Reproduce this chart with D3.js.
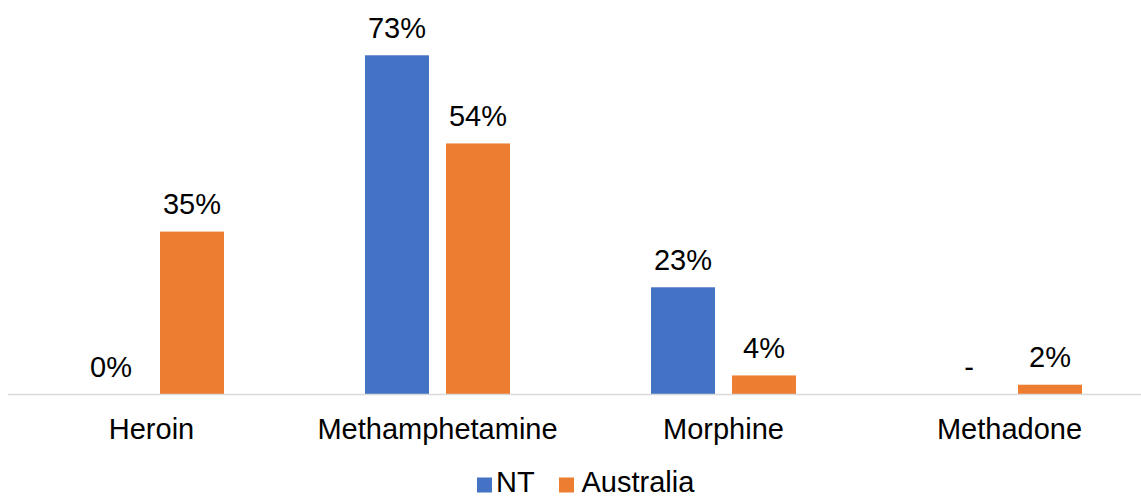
<!DOCTYPE html>
<html>
<head>
<meta charset="utf-8">
<script src="https://cdn.jsdelivr.net/npm/d3@7"></script>
<style>
  html, body { margin: 0; padding: 0; background: #fff; }
  svg { display: block; font-family: "Liberation Sans", Arial, sans-serif; }
</style>
</head>
<body>
<svg id="chart" width="1141" height="498"></svg>
<script>
// Drug categories and share of detections by region
const categories = ["Heroin", "Methamphetamine", "Morphine", "Methadone"];
const seriesNames = ["NT", "Australia"];
const ntValues = [0, 73, 23, null];          // null = no data, labelled "-"
const australiaValues = [35, 54, 4, 2];
const seriesColors = ["#4472C4", "#ED7D31"];

const series = [
  { name: seriesNames[0], values: ntValues, color: seriesColors[0] },
  { name: seriesNames[1], values: australiaValues, color: seriesColors[1] }
];

const W = 1141, H = 498;
const baseY = 394;
const FONT = 29;
const svg = d3.select("#chart");

const x0 = d3.scaleBand().domain(categories).range([8.5, 1152.5]).padding(0);
const x1 = d3.scaleBand().domain(seriesNames)
  .range([70.5, x0.bandwidth() - 70.5])
  .paddingInner(17 / 81).paddingOuter(0);
const y = d3.scaleLinear().domain([0, 80]).range([baseY, baseY - 80 * 4.64]);

// bars and value labels
const groups = svg.append("g").selectAll("g")
  .data(categories)
  .join("g")
  .attr("transform", d => `translate(${x0(d)},0)`);

series.forEach(s => {
  groups.each(function (cat, i) {
    const v = s.values[i];
    const g = d3.select(this);
    if (v !== null && v > 0) {
      g.append("rect")
        .attr("x", x1(s.name))
        .attr("y", y(v))
        .attr("width", x1.bandwidth())
        .attr("height", y(0) - y(v))
        .attr("fill", s.color);
    }
    g.append("text")
      .attr("x", x1(s.name) + x1.bandwidth() / 2)
      .attr("y", y(v === null ? 0 : v) - 17.5)
      .attr("text-anchor", "middle")
      .attr("font-size", FONT)
      .attr("fill", "#000")
      .text(v === null ? "-" : v + "%");
  });
});

// category axis
const xAxis = svg.append("g")
  .attr("transform", `translate(0,${baseY})`)
  .call(d3.axisBottom(x0).tickSize(0).tickPadding(0));
xAxis.select(".domain").remove();
xAxis.selectAll("text")
  .attr("dy", null)
  .attr("y", 45.3)
  .attr("font-family", "Liberation Sans, Arial, sans-serif")
  .attr("font-size", FONT)
  .attr("fill", "#000");

svg.append("line")
  .attr("x1", 8).attr("x2", W)
  .attr("y1", baseY + 0.5).attr("y2", baseY + 0.5)
  .attr("stroke", "#D9D9D9")
  .attr("stroke-width", 1.5);

// legend
const legendItems = [
  { name: seriesNames[0], color: seriesColors[0], x: 477, dx: 19 },
  { name: seriesNames[1], color: seriesColors[1], x: 559, dx: 22.5 }
];
const legend = svg.append("g");
legendItems.forEach(it => {
  legend.append("rect")
    .attr("x", it.x).attr("y", 477.5)
    .attr("width", 15).attr("height", 15)
    .attr("fill", it.color);
  legend.append("text")
    .attr("x", it.x + it.dx).attr("y", 491.5)
    .attr("font-size", FONT)
    .attr("fill", "#000")
    .text(it.name);
});
</script>
</body>
</html>
